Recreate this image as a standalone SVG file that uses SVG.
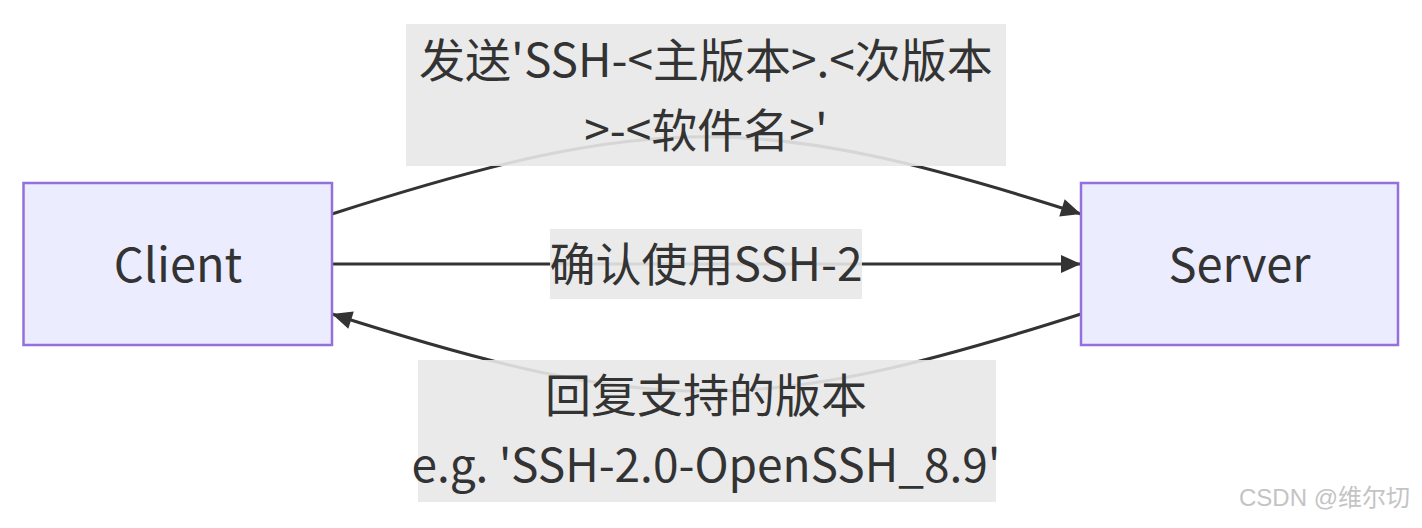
<svg xmlns="http://www.w3.org/2000/svg" width="1422" height="528" viewBox="0 0 1422 528">
  <style>
    .node rect { fill: #ECECFF; stroke: #9370DB; stroke-width: 2.5; }
    .t { font-family: "Noto Sans CJK SC", "Noto Sans", sans-serif; font-size: 46px; fill: #333333; text-anchor: middle; dominant-baseline: central; }
    .node .t { font-size: 47px; }
    .edge { fill: none; stroke: #333333; stroke-width: 3; }
    .lbg { fill: #e8e8e8; fill-opacity: 0.9; }
    .wm { font-family: "Liberation Sans", "Noto Sans CJK SC", sans-serif; font-size: 24px; fill: #c4c4c4; text-anchor: end; dominant-baseline: central; }
  </style>
  <defs>
    <marker id="arrow" markerUnits="userSpaceOnUse" markerWidth="22" markerHeight="20" refX="21" refY="10" orient="auto">
      <path d="M1,1 L21,10 L1,19 z" fill="#333333"/>
    </marker>
  </defs>
  <rect width="1422" height="528" fill="#ffffff"/>
  <g id="connectors">
    <path class="edge" d="M332,214 C654,111 759,111 1081,214" marker-end="url(#arrow)"/>
    <path class="edge" d="M332,264 L1081,264" marker-end="url(#arrow)"/>
    <path class="edge" d="M1081,314 C759,417 654,417 332,314" marker-end="url(#arrow)"/>
  </g>
  <g id="label-send">
    <rect class="lbg" x="406" y="24" width="600" height="142"/>
    <text class="t" x="706" y="57">发送'SSH-&lt;主版本&gt;.&lt;次版本</text>
    <text class="t" x="706" y="127">&gt;-&lt;软件名&gt;'</text>
  </g>
  <g id="label-confirm">
    <rect class="lbg" x="550" y="229" width="312" height="70"/>
    <text class="t" x="706" y="261">确认使用SSH-2</text>
  </g>
  <g id="label-reply">
    <rect class="lbg" x="418" y="360" width="578" height="142"/>
    <text class="t" x="706" y="392">回复支持的版本</text>
    <text class="t" x="706" y="462">e.g. 'SSH-2.0-OpenSSH_8.9'</text>
  </g>
  <g id="client" class="node">
    <rect x="23.5" y="183" width="308.5" height="162"/>
    <text class="t" x="178" y="261">Client</text>
  </g>
  <g id="server" class="node">
    <rect x="1081" y="183" width="317" height="162"/>
    <text class="t" x="1239.5" y="261">Server</text>
  </g>
  <text class="wm" x="1410" y="497">CSDN @维尔切</text>
</svg>
